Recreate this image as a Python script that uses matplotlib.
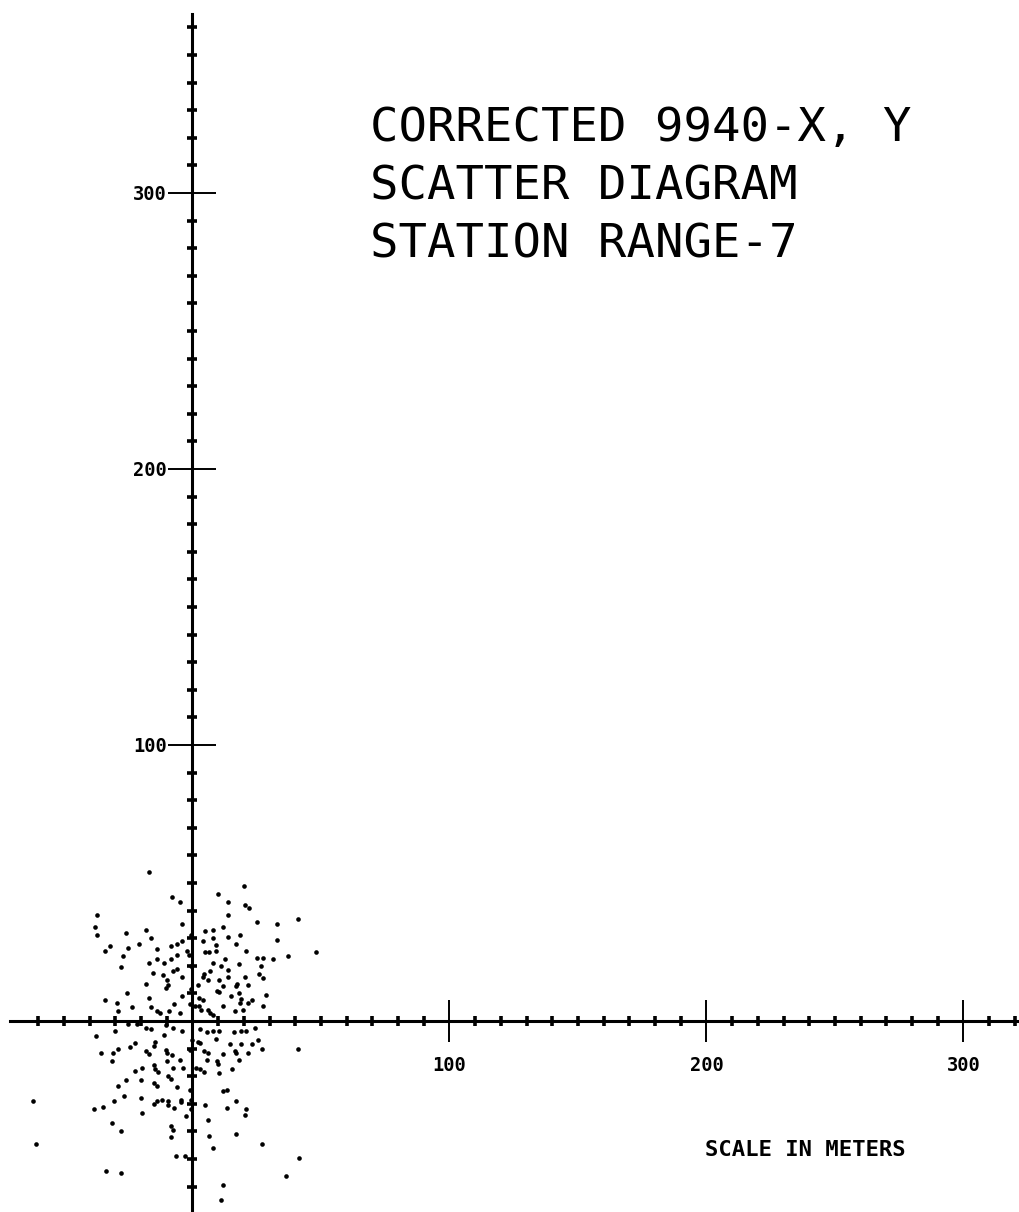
import matplotlib
matplotlib.use('Agg')
import matplotlib.pyplot as plt
from matplotlib.ticker import FixedLocator, NullFormatter

# scatter readings (meters)
x_m = [-17, 20, 10, -8, -5, 14, 20.5, 22, -37, 14, 41, 25, -4, 33, -38, -26, -18, 5, 8, 12,
       -37, -16, -0.5, 4, 8, 14, 18.5, 33, -21, 9, 17, -32, -25, -8.5, -6, -4, -34, -14, -2, 5,
       6.5, 9, 21, 48, -27, -14, -6, -1.5, 12.5, 25, 27.5, 37, 31.5, -17, -8.5, -11, 8, -0.5, 18, 26.5,
       -28, 11, 14, -7.5, -6, -15.5, 4.5, 7, 26, -11.5, -4, 4, 14, 20.5, -10, 27.5, 6, 10.5, -18, 2,
       17.5, 17, 21.5, -9.5, -10.5, 12, -0.5, 9.5, 10.5, -25.5, -4, 15, 18, 28.5, -17, 2.5, 19, -34, 4, 23,
       21.5, -29.5, -7, -1, 1, 2.5, 12, 18.5, 27.5, -23.5, -16, 3.5, 6, -29, -12.5, -14, -9, -5, 7, 8,
       16.5, 19.5,
       -25, -21.5, -18, -16, -10.5, -7.5, -4, 3, 8, 10.5, 16, 19, 21, 24.5, -30, 5.5, -37.5, -11, 0, 2,
       3, 9, 14.5, 19, 23, 25.5, -22.5, -14.5, -15, -24.5, -29, -31, -35.5, -1, 4.5, 6, 16.5, 17, 21.5, 27,
       41, -18, -17, -10.5, -10, -8, 12, -5, 5.5, 9.5, 10, 18, -31.5, -10, -15, -14.5, -7.5, -3.5, 1.5, 3,
       -19.5, -22.5, -13.5, 4.5, 10.5, 15.5, -9.5, -8.5, -26, -20, -15, -14, -29, -6, -1, 12, 13.5, -26.5, -62, -30.5,
       -20, -15, -14, -12, -9.5, -9.5, -7, -4.5, -4.5, -0.5, 17, -38.5, -35, -0.5, 5, 13.5, 21, 20.5, -19.5, -2.5,
       6, -31.5, -8.5, -28, -7.5, -8.5, 6.5, 17, -61, 27, 8, -6.5, -3, 41.5, -33.5, -28, 36.5, 12, 11]
y_m = [54, 49, 46, 45, 43, 43, 42, 41, 38.5, 38.5, 37, 36, 35, 35, 34, 32, 33, 32.5, 33, 34,
       31, 30, 31, 29, 30, 30.5, 31, 29.5, 28, 27.5, 28, 27, 26.5, 27, 28, 29, 25.5, 26, 25.5, 25,
       25, 25.5, 25.5, 25, 23.5, 22.5, 24, 24, 22.5, 23, 23, 23.5, 22.5, 21, 22.5, 21, 21, 20, 20.5, 20,
       19.5, 20, 18.5, 18, 19, 17.5, 17, 18, 17, 16.5, 16, 16, 16, 16, 15, 15.5, 15, 15, 13.5, 13,
       13.5, 12.5, 13, 13, 12, 12.5, 11.5, 11, 10.5, 10, 9, 9, 10, 9.5, 8.5, 8.5, 8, 7.5, 7.5, 7.5,
       6.5, 6.5, 6, 6, 5.5, 5.5, 5.5, 6.5, 5.5, 5, 5, 4, 4, 3.5, 3, 3.5, 3.5, 3, 3, 2,
       3.5, 4,
       -1, -1, -2.5, -3, -1.5, -2.5, -3.5, -3, -3.5, -3.5, -4, -3.5, -3.5, -2.5, -3.5, -4, -5.5, -5, -7, -7.5,
       -8, -6.5, -8.5, -8.5, -8.5, -7, -8, -7.5, -9, -9.5, -10, -11.5, -11.5, -10.5, -11, -11.5, -11, -11.5, -11.5, -10,
       -10, -11, -12, -10.5, -11.5, -12.5, -12, -14, -14, -14.5, -15.5, -14, -14.5, -14.5, -16, -17.5, -17, -17, -17, -17.5,
       -17, -18, -18.5, -18.5, -19, -17.5, -20, -21, -21.5, -21.5, -22.5, -23.5, -23.5, -24, -25, -25.5, -25, -27, -29, -29,
       -28, -30, -29, -28.5, -29, -30.5, -31.5, -28.5, -29.5, -28.5, -29, -32, -31, -32, -30.5, -31.5, -32, -34, -33.5, -34.5,
       -36, -37, -38, -40, -39.5, -42, -41.5, -41, -44.5, -44.5, -46, -49, -49, -49.5, -54.5, -55, -56, -59.5, -65]

x_major = [100, 200, 300]
y_major = [100, 200, 300]
x_minor = [v for v in range(-60, 330, 10) if v % 100 != 0]
y_minor = [v for v in range(-60, 370, 10) if v % 100 != 0]

title_lines = ['CORRECTED 9940-X, Y', 'SCATTER DIAGRAM', 'STATION RANGE-7']
scale_label = 'SCALE IN METERS'

plt.rcParams['font.family'] = 'DejaVu Sans Mono'

fig = plt.figure(figsize=(10.2, 12.12), dpi=100)
ax = fig.add_axes([0, 0, 1, 1])
ax.set_xlim(-74.9, 322)
ax.set_ylim(-69.2, 369.9)

ax.scatter(x_m, y_m, s=11, c='k', linewidths=0, zorder=3)

# axes crossing at the origin
for side in ['top', 'right']:
    ax.spines[side].set_visible(False)
ax.spines['left'].set_position(('data', 0))
ax.spines['bottom'].set_position(('data', 0))
ax.spines['left'].set_linewidth(2.2)
ax.spines['bottom'].set_linewidth(2.2)
ax.spines['left'].set_bounds(-69.2, 365)
ax.spines['bottom'].set_bounds(-71, 322)

ax.set_xticks(x_major)
ax.set_xticklabels([str(v) for v in x_major], fontweight='bold', fontsize=13.5)
ax.set_yticks(y_major)
ax.set_yticklabels([str(v) for v in y_major], fontweight='bold', fontsize=13.5)
ax.xaxis.set_minor_locator(FixedLocator(x_minor))
ax.yaxis.set_minor_locator(FixedLocator(y_minor))
ax.xaxis.set_minor_formatter(NullFormatter())
ax.yaxis.set_minor_formatter(NullFormatter())

ax.tick_params(axis='x', which='major', direction='inout', length=30, width=1.4, pad=10)
ax.tick_params(axis='y', which='major', direction='inout', length=35, width=1.4, pad=1)
ax.tick_params(which='minor', direction='inout', length=7.5, width=2.6)

y0 = 141
for line in title_lines:
    fig.text(370 / 1020, 1 - y0 / 1212, line, fontsize=34, va='baseline', ha='left')
    y0 += 58

fig.text(805 / 1020, 1 - 1150 / 1212, scale_label, fontsize=16, fontweight='bold',
         ha='center', va='center')

fig.savefig('out.png', dpi=100)
